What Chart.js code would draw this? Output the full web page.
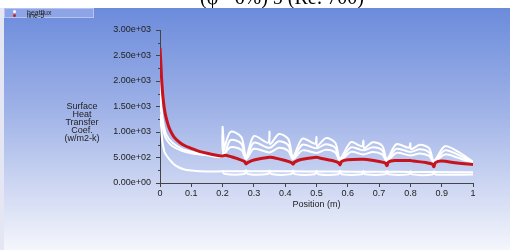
<!DOCTYPE html>
<html>
<head>
<meta charset="utf-8">
<script src="https://cdn.jsdelivr.net/npm/chart.js@4"></script>
<style>
  body { margin: 0; background: #fff; }
  #wrap { position: relative; width: 510px; height: 250px; overflow: hidden; }
  #topTitle { position: absolute; left: 0; top: 0; width: 510px; height: 8px; overflow: hidden; }
  #topTitle span { position: absolute; left: 200px; top: -13px; font: 20px "Liberation Serif", serif; line-height: 20px; color: #000; white-space: nowrap; }
  #legendBox { position: absolute; left: 4px; top: 8px; width: 90px; height: 10px; background: #8da5e6; border: 1px solid #b4c4ee; box-sizing: border-box; }
  #legendBox .t { position: absolute; left: 22px; font: 7px "Liberation Sans", Arial, sans-serif; color: #222; line-height: 7px; }
  #legendBox .d { position: absolute; left: 8px; width: 3px; height: 3px; border-radius: 2px; }
  #yTitle { position: absolute; left: 52px; top: 102px; width: 60px; text-align: center; font: 9px "Liberation Sans", Arial, sans-serif; line-height: 8px; color: #222; }
</style>
</head>
<body>
<div id="wrap">
  <canvas id="myChart" width="510" height="250"></canvas>
  <div id="topTitle"><span>(φ= 6%) 5 (Re: 700)</span></div>
  <div id="legendBox">
    <div class="d" style="top:1px;background:#fff"></div>
    <div class="d" style="top:5px;background:#d01a24"></div>
    <div class="t" style="top:0px">heatflux</div>
    <div class="t" style="top:3px">line-5</div>
  </div>
  <div id="yTitle">Surface<br>Heat<br>Transfer<br>Coef.<br>(w/m2-k)</div>
</div>
<script>
// tick labels
var xTickLabels = ["0", "0.1", "0.2", "0.3", "0.4", "0.5", "0.6", "0.7", "0.8", "0.9", "1"];
var yTickLabels = ["0.00e+00", "5.00e+02", "1.00e+03", "1.50e+03", "2.00e+03", "2.50e+03", "3.00e+03"];

// red line (heat transfer coefficient along the wall)
var redX = [0, 0.003, 0.006, 0.01, 0.016, 0.024, 0.032, 0.045, 0.064, 0.08, 0.096, 0.128, 0.16, 0.19, 0.2, 0.21, 0.25, 0.27, 0.275, 0.28, 0.3, 0.35, 0.36, 0.4, 0.42, 0.425, 0.43, 0.45, 0.5, 0.51, 0.55, 0.57, 0.575, 0.58, 0.6, 0.65, 0.66, 0.7, 0.72, 0.725, 0.73, 0.75, 0.8, 0.81, 0.85, 0.87, 0.875, 0.88, 0.9, 0.95, 1.0];
var redY = [2650, 2300, 1950, 1650, 1380, 1180, 1040, 900, 790, 730, 690, 615, 570, 535, 530, 545, 470, 420, 375, 400, 450, 505, 500, 440, 400, 370, 410, 460, 505, 490, 440, 400, 355, 420, 455, 465, 460, 420, 390, 340, 410, 440, 440, 430, 400, 370, 320, 400, 430, 390, 365];

// white lines
var wTopX = [0, 0.004, 0.01, 0.02, 0.04, 0.07, 0.1, 0.15, 0.199, 0.2, 0.201, 0.225, 0.26, 0.275, 0.3, 0.345, 0.35, 0.352, 0.38, 0.41, 0.425, 0.455, 0.495, 0.5, 0.502, 0.53, 0.56, 0.575, 0.61, 0.645, 0.65, 0.652, 0.68, 0.71, 0.725, 0.755, 0.795, 0.8, 0.802, 0.83, 0.86, 0.875, 0.91, 0.95, 1.0];
var wTopY = [2100, 1550, 1200, 950, 790, 670, 615, 560, 525, 1100, 620, 1000, 900, 520, 920, 790, 1010, 760, 960, 860, 520, 870, 770, 900, 720, 880, 790, 480, 800, 720, 830, 680, 800, 730, 470, 760, 690, 780, 660, 750, 680, 440, 720, 620, 420];

var wMidX = [0, 0.004, 0.01, 0.02, 0.04, 0.07, 0.1, 0.15, 0.2, 0.225, 0.26, 0.275, 0.3, 0.35, 0.38, 0.41, 0.425, 0.455, 0.5, 0.53, 0.56, 0.575, 0.61, 0.65, 0.68, 0.71, 0.725, 0.755, 0.8, 0.83, 0.86, 0.875, 0.91, 0.95, 1.0];
var wMidY = [1800, 1350, 1060, 860, 720, 630, 585, 545, 515, 840, 770, 490, 790, 690, 820, 740, 490, 750, 680, 760, 690, 450, 700, 640, 700, 640, 440, 670, 610, 660, 600, 420, 640, 560, 400];

var wInX = [0.2, 0.225, 0.26, 0.275, 0.3, 0.35, 0.38, 0.41, 0.425, 0.455, 0.5, 0.53, 0.56, 0.575, 0.61, 0.65, 0.68, 0.71, 0.725, 0.755, 0.8, 0.83, 0.86, 0.875, 0.91, 0.95, 1.0];
var wInY = [520, 700, 650, 470, 670, 600, 690, 630, 470, 640, 590, 650, 600, 440, 610, 560, 610, 560, 430, 590, 540, 580, 530, 410, 560, 500, 390];

var wLowX = [0, 0.003, 0.007, 0.015, 0.032, 0.05, 0.075, 0.1, 0.15, 0.2, 0.275, 0.35, 0.425, 0.5, 0.575, 0.65, 0.725, 0.8, 0.875, 1.0];
var wLowY = [1350, 1150, 840, 600, 450, 340, 270, 245, 225, 230, 232, 230, 228, 226, 224, 222, 220, 218, 215, 210];

var wBaseX = [0.2, 0.205, 0.27, 0.275, 0.28, 0.345, 0.35, 0.355, 0.42, 0.425, 0.43, 0.495, 0.5, 0.505, 0.57, 0.575, 0.58, 0.645, 0.65, 0.655, 0.72, 0.725, 0.73, 0.795, 0.8, 0.805, 0.87, 0.875, 0.88, 1.0];
var wBaseY = [250, 180, 178, 250, 178, 176, 245, 176, 174, 245, 174, 173, 240, 173, 172, 240, 172, 171, 235, 171, 170, 235, 170, 169, 230, 169, 168, 230, 168, 165];

function pts(xs, ys) {
    return xs.map(function (x, i) { return { x: x, y: ys[i] }; });
}

function whiteLine(xs, ys) {
    return {
        data: pts(xs, ys),
        borderColor: "#ffffff",
        borderWidth: 2,
        pointRadius: 0,
        tension: 0.3
    };
}

// fluent-style backdrop: white edges, blue gradient
var backdrop = {
    id: "backdrop",
    beforeDraw: function (chart) {
        var c = chart.ctx;
        c.save();
        c.fillStyle = "#ffffff";
        c.fillRect(0, 0, 510, 250);
        c.fillStyle = "#e4e7f3";
        c.fillRect(0, 8, 4, 242);
        var g = c.createLinearGradient(0, 8, 0, 250);
        g.addColorStop(0, "#6b8bdb");
        g.addColorStop(0.45, "#a3b5e8");
        g.addColorStop(1, "#f5f6fc");
        c.fillStyle = g;
        c.fillRect(4, 8, 506, 242);
        c.restore();
    },
    afterDraw: function (chart) {
        // minor ticks on the y axis
        var y = chart.scales.y, c = chart.ctx;
        c.save();
        c.strokeStyle = "#444";
        c.lineWidth = 1;
        [250, 750, 1250, 1750, 2250, 2750].forEach(function (v) {
            var py = Math.round(y.getPixelForValue(v)) + 0.5;
            c.beginPath();
            c.moveTo(y.right - 2, py);
            c.lineTo(y.right, py);
            c.stroke();
        });
        c.restore();
    }
};

var ctx = document.getElementById("myChart").getContext("2d");
var myChart = new Chart(ctx, {
    type: "line",
    data: {
        datasets: [
            {
                label: "heatflux",
                data: pts(redX, redY),
                borderColor: "#c8121c",
                borderWidth: 3,
                pointRadius: 0,
                tension: 0.3
            },
            whiteLine(wTopX, wTopY),
            whiteLine(wMidX, wMidY),
            whiteLine(wInX, wInY),
            whiteLine(wLowX, wLowY),
            whiteLine(wBaseX, wBaseY)
        ]
    },
    options: {
        responsive: false,
        devicePixelRatio: 1,
        animation: false,
        layout: { padding: { left: 0, top: 30, right: 37, bottom: 0 } },
        plugins: { legend: { display: false }, tooltip: { enabled: false } },
        scales: {
            x: {
                type: "linear",
                min: 0,
                max: 1,
                afterBuildTicks: function (s) {
                    s.ticks = xTickLabels.map(function (t) { return { value: parseFloat(t) }; });
                },
                afterFit: function (s) { s.height = 67; },
                grid: { drawOnChartArea: false, tickLength: 4, color: "#444" },
                border: { color: "#444", width: 1 },
                ticks: {
                    maxRotation: 0,
                    padding: 1,
                    color: "#222",
                    font: { family: "'Liberation Sans', Arial, sans-serif", size: 9 },
                    callback: function (v, i) { return xTickLabels[i]; }
                },
                title: {
                    display: true,
                    text: "Position (m)",
                    color: "#222",
                    font: { family: "'Liberation Sans', Arial, sans-serif", size: 9 },
                    padding: { top: 0, bottom: 40 }
                }
            },
            y: {
                min: 0,
                max: 3000,
                afterBuildTicks: function (s) {
                    s.ticks = yTickLabels.map(function (t) { return { value: parseFloat(t) }; });
                },
                afterFit: function (s) { s.width = 160; },
                grid: { drawOnChartArea: false, tickLength: 4, color: "#444" },
                border: { color: "#444", width: 1 },
                ticks: {
                    padding: 5,
                    color: "#222",
                    font: { family: "'Liberation Sans', Arial, sans-serif", size: 9 },
                    callback: function (v, i) { return yTickLabels[i]; }
                }
            }
        }
    },
    plugins: [backdrop]
});
</script>
</body>
</html>
